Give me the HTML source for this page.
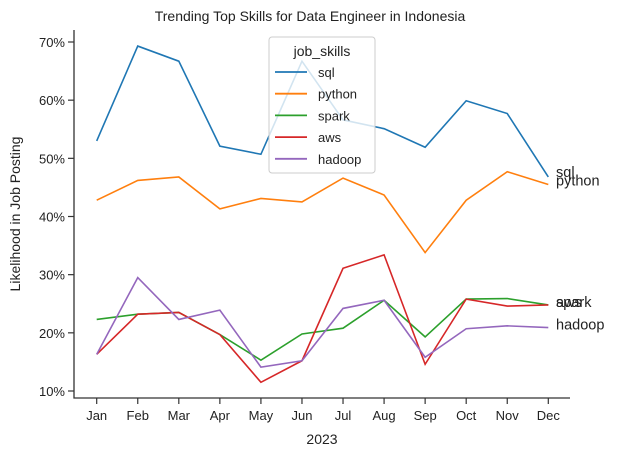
<!DOCTYPE html>
<html><head><meta charset="utf-8"><style>body{margin:0;background:#fff}svg{font-family:"Liberation Sans","DejaVu Sans",sans-serif}</style></head>
<body>
<svg id="c" width="621" height="457"></svg>
<script>
const months=["Jan","Feb","Mar","Apr","May","Jun","Jul","Aug","Sep","Oct","Nov","Dec"];
const skills=["sql","python","spark","aws","hadoop"];
const colors=["#1f77b4","#ff7f0e","#2ca02c","#d62728","#9467bd"];
const sql=[53,69.3,66.7,52.1,50.7,66.7,56.6,55.1,51.9,59.9,57.7,46.8];
const python=[42.8,46.2,46.8,41.3,43.1,42.5,46.6,43.7,33.8,42.8,47.7,45.5];
const spark=[22.3,23.2,23.5,19.7,15.3,19.8,20.8,25.6,19.3,25.8,25.9,24.8];
const aws=[16.3,23.2,23.5,19.7,11.5,15.2,31.1,33.4,14.6,25.8,24.6,24.8];
const hadoop=[16.3,29.5,22.3,23.9,14.1,15.2,24.2,25.6,15.8,20.7,21.2,20.9];
const yTicks=[10,20,30,40,50,60,70];
const series=[sql,python,spark,aws,hadoop];
const labelDy=[-5,-4,-3,-3,-3];
const NS="http://www.w3.org/2000/svg",svg=document.getElementById("c");
function el(t,a,txt){const e=document.createElementNS(NS,t);for(const k in a)e.setAttribute(k,a[k]);if(txt!==undefined)e.textContent=txt;svg.appendChild(e);return e;}
const x=i=>96.7+i*(548.3-96.7)/11;
const y=v=>391-(v-10)*(391-42)/60;
let t=el("text",{x:310,y:21,"text-anchor":"middle","font-size":14,fill:"#222"},"Trending Top Skills for Data Engineer in Indonesia");

let a=el("path",{d:"M74,30V398H570",fill:"none",stroke:"#333","stroke-width":1.3});

yTicks.forEach(v=>{let l=el("line",{x1:68,x2:74,y1:y(v),y2:y(v),stroke:"#333","stroke-width":1.2});

let tx=el("text",{x:65,y:y(v)+5,"text-anchor":"end","font-size":13,fill:"#222"},v+"%");
});
months.forEach((m,i)=>{let l=el("line",{x1:x(i),x2:x(i),y1:398,y2:404,stroke:"#333","stroke-width":1.2});

let tx=el("text",{x:x(i),y:420,"text-anchor":"middle","font-size":13,fill:"#222"},m);
});
t=el("text",{x:322,y:444,"text-anchor":"middle","font-size":14,fill:"#222"},"2023");

t=el("text",{x:20,y:214,"text-anchor":"middle","font-size":14,fill:"#222",transform:"rotate(-90 20 214)"},"Likelihood in Job Posting");

series.forEach((s,k)=>{let p=el("polyline",{points:s.map((v,i)=>x(i)+","+y(v)).join(" "),fill:"none",stroke:colors[k],"stroke-width":1.6});

let tx=el("text",{x:556,y:y(s[11])+5+labelDy[k],"font-size":14.5,fill:"#222"},skills[k]);
});
let lg=el("rect",{x:269,y:37,width:106,height:136,rx:3,fill:"rgba(255,255,255,0.8)",stroke:"#ccc"});

t=el("text",{x:322,y:56,"text-anchor":"middle","font-size":14,fill:"#222"},"job_skills");

skills.forEach((s,k)=>{const yy=72+k*21.7;
let l=el("line",{x1:275,x2:307,y1:yy,y2:yy,stroke:colors[k],"stroke-width":1.8});

let tx=el("text",{x:318,y:yy+5,"font-size":13,fill:"#222"},s);
});
</script>
</body></html>
